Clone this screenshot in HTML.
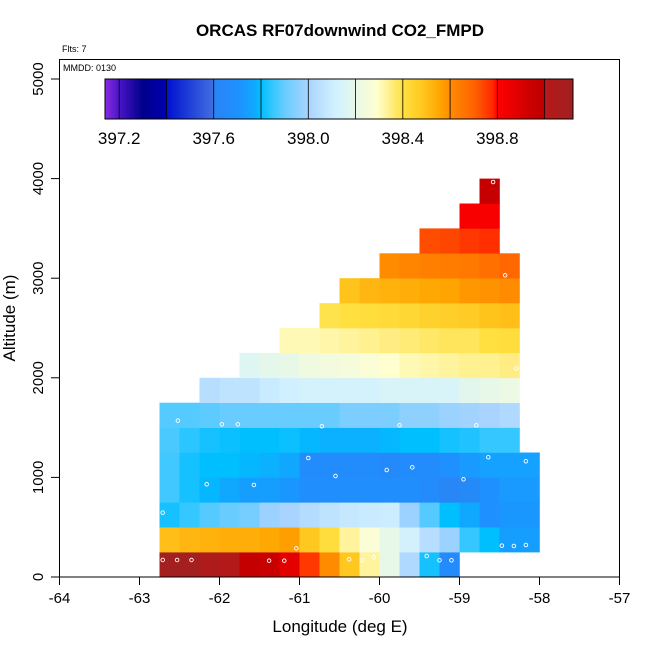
<!DOCTYPE html>
<html><head><meta charset="utf-8"><style>
body{margin:0;background:#fff;}
svg text{font-family:"Liberation Sans",sans-serif;}
</style></head><body>
<svg id="chart" width="650" height="650" viewBox="0 0 650 650" xmlns="http://www.w3.org/2000/svg">
<g id="cells"></g>
<g id="pts"></g>
<rect x="59.5" y="59.5" width="560" height="517.5" fill="none" stroke="#000" stroke-width="1"/>
<g id="axes"></g>
<g id="cbar"></g>
<text x="340" y="36" text-anchor="middle" font-size="17" font-weight="bold">ORCAS RF07downwind CO2_FMPD</text>
<text x="62" y="52" font-size="9">Flts: 7</text>
<text x="63" y="71" font-size="9">MMDD: 0130</text>
<text x="340" y="632" text-anchor="middle" font-size="17">Longitude (deg E)</text>
<text transform="translate(15,318) rotate(-90)" text-anchor="middle" font-size="17">Altitude (m)</text>
</svg>
<script>
const rowStartCols=[0,0,0,0,0,0,0,2,4,6,8,9,11,13,15,16];
const rowValues=[
[399.1,399.1,399.05,399.02,398.97,398.95,398.87,398.76,398.6,398.48,398.33,398.2,398.02,397.82,397.66],
[398.5,398.52,398.53,398.54,398.54,398.55,398.57,398.48,398.41,398.33,398.27,398.2,398.12,398.04,397.98,397.85,397.8,397.74,397.74],
[397.82,397.85,397.88,397.9,397.92,397.98,398.0,398.03,398.06,398.08,398.09,398.1,397.98,397.88,397.8,397.77,397.7,397.72,397.72],
[397.86,397.82,397.79,397.77,397.74,397.74,397.72,397.68,397.68,397.68,397.68,397.68,397.68,397.66,397.62,397.64,397.7,397.73,397.73],
[397.86,397.82,397.8,397.8,397.79,397.78,397.77,397.67,397.67,397.67,397.67,397.65,397.67,397.67,397.7,397.73,397.75,397.75,397.75],
[397.87,397.84,397.82,397.81,397.8,397.8,397.81,397.79,397.78,397.78,397.78,397.79,397.8,397.8,397.82,397.83,397.85,397.85],
[397.88,397.88,397.89,397.9,397.9,397.9,397.9,397.9,397.9,397.93,397.93,397.93,397.96,397.96,397.98,397.99,398.0,398.02],
[398.04,398.06,398.06,398.09,398.11,398.13,398.13,398.13,398.13,398.15,398.15,398.15,398.15,398.18,398.2,398.21],
[398.17,398.19,398.2,398.23,398.24,398.25,398.27,398.29,398.31,398.32,398.33,398.34,398.34,398.35],
[398.31,398.31,398.32,398.33,398.34,398.35,398.36,398.37,398.38,398.38,398.4,398.41],
[398.39,398.4,398.41,398.42,398.43,398.45,398.46,398.47,398.49,398.5],
[398.49,398.52,398.53,398.54,398.55,398.56,398.58,398.59,398.6],
[398.6,398.62,398.63,398.64,398.65,398.67,398.69],
[398.73,398.74,398.76,398.77],
[398.82,398.82],
[398.96]];
const pointLons=[-62.52,-61.97,-61.77,-60.72,-59.75,-58.79,-60.89,-58.64,-58.17,-60.55,-59.91,-59.59,-62.16,-61.57,-58.95,-62.71,-61.04,-58.47,-58.32,-58.17,-62.71,-62.53,-62.35,-61.38,-61.19,-60.38,-60.22,-60.07,-59.41,-59.25,-59.1,-58.58,-58.43,-58.29];
const pointAlts=[1570,1533,1533,1513,1523,1523,1195,1202,1162,1014,1074,1101,931,924,981,646,288,315,311,321,171,171,171,164,164,178,168,198,211,168,168,3966,3029,2095];
const xTicks=[-64,-63,-62,-61,-60,-59,-58,-57];
const yTicks=[0,1000,2000,3000,4000,5000];
const cbTicks=[397.2,397.6,398.0,398.4,398.8];
const lon0=-62.75, dLon=0.25, dAlt=250, vmin=397.14, vmax=399.12;
const stops=[[397.14,"#8a2be2"],[397.2,"#4a14c8"],[397.3,"#00008b"],[397.4,"#0000b0"],[397.4001,"#0010d0"],[397.6,"#4070e0"],[397.6001,"#2a84f4"],[397.7,"#1e90ff"],[397.77,"#10a8ff"],[397.8,"#00bfff"],[397.86,"#40c8ff"],[397.9,"#68ccff"],[398.0,"#a8d4ff"],[398.11,"#d0f0ff"],[398.15,"#d8f4f8"],[398.2,"#e8f8e8"],[398.29,"#ffffd0"],[398.34,"#fff090"],[398.4,"#ffe040"],[398.48,"#ffc820"],[398.56,"#ffa400"],[398.6,"#ff8c00"],[398.7,"#ff6400"],[398.78,"#ff2800"],[398.8,"#ff0000"],[398.95,"#c80000"],[399.0,"#c00000"],[399.0001,"#b81818"],[399.12,"#a02020"]];
function hx(c){return [1,3,5].map(i=>parseInt(c.substr(i,2),16));}
function cmap(v){
  if(v<=stops[0][0])return stops[0][1];
  for(let i=1;i<stops.length;i++){
    if(v<=stops[i][0]){const a=stops[i-1],b=stops[i];const t=(v-a[0])/(b[0]-a[0]);
      const ca=hx(a[1]),cb=hx(b[1]);return "rgb("+ca.map((x,k)=>Math.round(x+(cb[k]-x)*t)).join(",")+")";}
  }
  return stops[stops.length-1][1];
}
const X=lon=>59.5+(lon+64)*80;
const Y=alt=>577-alt*0.0996;
const NS="http://www.w3.org/2000/svg";
function mk(tag,attrs,parent){const e=document.createElementNS(NS,tag);for(const k in attrs)e.setAttribute(k,attrs[k]);parent.appendChild(e);return e;}
const cells=document.getElementById('cells');
rowValues.forEach((row,r)=>{
  row.forEach((v,j)=>{
    const c=rowStartCols[r]+j;
    const lon=lon0+c*dLon;
    const e=mk('rect',{x:X(lon),y:Y((r+1)*dAlt),width:X(lon+dLon)-X(lon)+0.3,height:Y(r*dAlt)-Y((r+1)*dAlt)+0.3,fill:cmap(v)},cells);
    
    
  });
});
const pts=document.getElementById('pts');
pointLons.forEach((lon,i)=>{
  const e=mk('circle',{cx:X(lon),cy:Y(pointAlts[i]),r:1.8,fill:"none",stroke:"#fff","stroke-width":0.9},pts);
  
  
});
const axes=document.getElementById('axes');
xTicks.forEach(t=>{
  const l=mk('line',{x1:X(t),x2:X(t),y1:577,y2:585,stroke:"#000"},axes);
  
  
  const tx=mk('text',{x:X(t),y:603,"text-anchor":"middle","font-size":"15"},axes);
  tx.textContent=String(t);
  
  
});
yTicks.forEach(t=>{
  const l=mk('line',{x1:51,x2:59.5,y1:Y(t),y2:Y(t),stroke:"#000"},axes);
  
  
  const tx=mk('text',{transform:"translate(43,"+Y(t)+") rotate(-90)","text-anchor":"middle","font-size":"15"},axes);
  tx.textContent=String(t);
  
  
});
const cb=document.getElementById('cbar');
const cbL=105,cbR=573,cbT=79,cbB=119;
const CX=v=>cbL+(v-vmin)/(vmax-vmin)*(cbR-cbL);
for(let px=cbL;px<cbR;px+=1){
  const v=vmin+(px+0.5-cbL)/(cbR-cbL)*(vmax-vmin);
  mk('rect',{x:px,y:cbT,width:1.2,height:cbB-cbT,fill:cmap(v)},cb);
}
mk('rect',{x:cbL,y:cbT,width:cbR-cbL,height:cbB-cbT,fill:"none",stroke:"#000","stroke-width":1},cb);
for(let k=0;k<10;k++){
  const v=397.2+0.2*k;
  mk('line',{x1:CX(v),x2:CX(v),y1:cbT,y2:cbB,stroke:"#000","stroke-width":0.8},cb);
}
cbTicks.forEach(t=>{
  const tx=mk('text',{x:CX(t),y:144,"text-anchor":"middle","font-size":"17"},cb);
  tx.textContent=t.toFixed(1);
  
  
});
</script>
</body></html>
